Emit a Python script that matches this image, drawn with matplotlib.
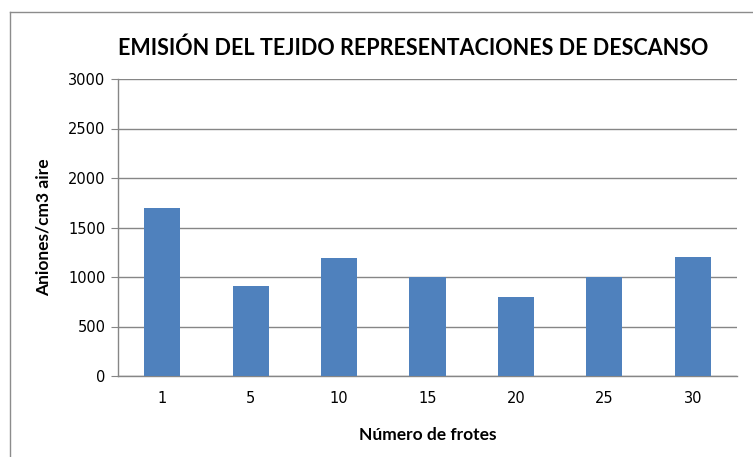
import matplotlib.pyplot as plt
from matplotlib.lines import Line2D

categories = ["1", "5", "10", "15", "20", "25", "30"]
values = [1700, 910, 1190, 1000, 800, 1000, 1200]
yticks = [0, 500, 1000, 1500, 2000, 2500, 3000]

BAR_COLOR = "#4F81BD"
GRID_COLOR = "#868686"

fig = plt.figure(figsize=(7.53, 4.57), dpi=100)
fig.patch.set_facecolor("white")

# marco del gráfico (solo arriba e izquierda quedan visibles)
fig.add_artist(Line2D([10 / 753, 1.0], [1 - 12 / 457, 1 - 12 / 457], color="#8c8c8c", lw=1.0))
fig.add_artist(Line2D([10 / 753, 10 / 753], [0.0, 1 - 12 / 457], color="#8c8c8c", lw=1.0))

ax = fig.add_axes([118 / 753, 1 - 376 / 457, (737 - 118) / 753, (376 - 79) / 457])
x = range(len(categories))
ax.bar(x, values, width=0.41, color=BAR_COLOR, zorder=3)

ax.set_xlim(-0.5, len(categories) - 0.5)
ax.set_ylim(0, 3000)
ax.set_yticks(yticks)
ax.set_xticks(list(x))
ax.set_xticklabels(categories)
ax.yaxis.grid(True, color=GRID_COLOR, lw=1.0, zorder=0)

for side in ("top", "right"):
    ax.spines[side].set_visible(False)
for side in ("left", "bottom"):
    ax.spines[side].set_color(GRID_COLOR)
    ax.spines[side].set_linewidth(1.0)

ax.tick_params(axis="y", length=5, color=GRID_COLOR, labelsize=10.5, pad=4)
ax.tick_params(axis="x", length=0, labelsize=10.5, pad=11)

ax.set_ylabel("Aniones/cm3 aire", fontsize=12.5, fontweight="bold", family="Lato", labelpad=12)
ax.set_xlabel("Número de frotes", fontsize=12.5, fontweight="bold", family="Lato", labelpad=15)

fig.text(413 / 753, 1 - 48 / 457, "EMISIÓN DEL TEJIDO REPRESENTACIONES DE DESCANSO",
         ha="center", va="center", fontsize=15.5, fontweight="bold", family="Lato")

fig.savefig("out.png", dpi=100)
